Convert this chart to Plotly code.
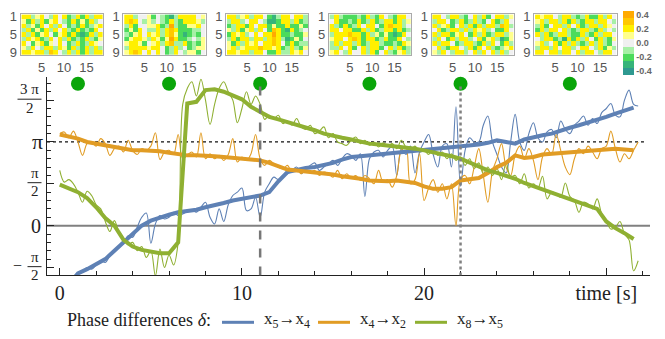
import numpy as np
import plotly.graph_objects as go

# ---------------- data (phase values in units of pi) ----------------
blue_thick = [None, -0.70, -0.57, -0.52, -0.46, -0.40, -0.30, -0.20, -0.10, 0.00, 0.06, 0.10, 0.13, 0.16,
              0.17, 0.19, 0.22, 0.24, 0.27, 0.30, 0.32, 0.34, 0.36, 0.40, 0.53, 0.64, 0.67, 0.69, 0.70, 0.72,
              0.75, 0.79, 0.82, 0.83, 0.84, 0.85, 0.86, 0.88, 0.89, 0.90, 0.91, 0.92, 0.92, 0.93, 0.94, 0.95,
              0.97, 0.99, 1.02, 1.00, 0.98, 1.03, 1.06, 1.08, 1.10, 1.14, 1.17, 1.20, 1.23, 1.27, 1.30, 1.34,
              1.38, 1.41]
orange_thick = [1.09, 1.07, 1.04, 1.00, 0.98, 0.96, 0.93, 0.91, 0.90, 0.90, 0.90, 0.89, 0.87, 0.85, 0.84,
                0.84, 0.84, 0.83, 0.82, 0.81, 0.80, 0.79, 0.78, 0.75, 0.71, 0.67, 0.66, 0.65, 0.64, 0.63,
                0.61, 0.59, 0.58, 0.56, 0.54, 0.53, 0.53, 0.54, 0.53, 0.51, 0.47, 0.44, 0.44, 0.46, 0.54,
                0.56, 0.57, 0.63, 0.70, 0.75, 0.84, 0.81, 0.82, 0.85, 0.86, 0.86, 0.88, 0.88, 0.89, 0.90,
                0.91, 0.92, 0.91, 0.90]
green_thick = [0.49, 0.45, 0.40, 0.33, 0.22, 0.09, 0.00, -0.17, -0.25, -0.29, -0.31, -0.33, -0.33, -0.20,
               1.46, 1.48, 1.62, 1.63, 1.60, 1.56, 1.51, 1.42, 1.36, 1.30, 1.27, 1.24, 1.20, 1.17, 1.14,
               1.10, 1.07, 1.05, 1.03, 1.00, 0.98, 0.97, 0.96, 0.95, 0.94, 0.92, 0.90, 0.88, 0.85, 0.83,
               0.80, 0.75, 0.71, 0.66, 0.63, 0.60, 0.56, 0.51, 0.47, 0.43, 0.40, 0.36, 0.31, 0.28, 0.24,
               0.20, 0.05, -0.03, -0.09, -0.16]

blue_thin = [None, None, None, -0.66, -0.58, -0.55, -0.50, -0.52, -0.47, -0.42, -0.44, -0.36,
             -0.30, -0.24, -0.22, -0.12, -0.14, -0.02, 0.10, 0.15, -0.21, 0.02, 0.12, 0.08,
             0.10, 0.16, 0.12, 0.14, 0.17, 0.19, 0.16, 0.22, 0.28, 0.10, 0.02, 0.20,
             0.05, 0.25, 0.36, 0.40, 0.45, 0.18, 0.20, 0.34, 0.10, 0.40, 0.50, 0.58,
             0.55, 0.60, 0.62, 0.66, 0.70, 0.62, 0.68, 0.72, 0.75, 0.66, 0.70, 0.74,
             0.78, 0.72, 0.80, 0.86, 0.84, 0.78, 0.86, 0.35, 0.80, 0.88, 0.90, 0.82,
             0.90, 0.95, 0.60, 0.92, 0.85, 0.95, 0.63, 0.88, 1.00, 1.09, 0.85, 0.70,
             0.95, 0.98, 0.70, 1.42, 0.47, 0.90, 1.05, 1.00, 1.00, 1.20, 1.31, 1.00,
             0.85, 0.70, 0.63, 1.00, 1.33, 1.00, 0.90, 1.10, 1.23, 1.05, 1.00, 1.12,
             1.15, 1.05, 1.25, 1.15, 1.10, 1.20, 1.25, 1.31, 1.20, 1.28, 1.22, 1.35,
             1.40, 1.46, 1.32, 1.30, 1.50, 1.62, 1.45, 1.43]
orange_thin = [1.10, 1.12, 1.05, 1.13, 1.00, 0.84, 0.98, 1.00, 0.95, 1.04, 0.98, 0.84,
               0.92, 0.95, 0.88, 1.02, 0.90, 0.85, 0.92, 0.90, 0.95, 1.11, 0.79, 0.88,
               0.90, 0.85, 1.09, 0.80, 0.84, 0.88, 0.82, 1.11, 0.80, 0.86, 0.80, 0.84,
               0.78, 0.85, 1.04, 0.76, 0.82, 0.78, 0.86, 1.09, 0.80, 0.72, 0.78, 0.74,
               0.70, 0.68, 0.72, 0.64, 0.68, 0.62, 0.66, 0.64, 0.66, 0.60, 0.64, 0.62,
               0.58, 0.66, 0.56, 0.62, 0.57, 0.60, 0.54, 0.60, 0.56, 0.50, 0.66, 0.52,
               0.55, 0.46, 0.60, 0.90, 0.94, 0.50, 0.55, 0.86, 0.30, 0.45, 0.55, 0.40,
               0.50, 0.32, 0.50, 0.00, 0.55, 0.60, 0.50, 0.70, 0.92, 0.60, 0.28, 0.65,
               0.80, 0.98, 0.70, 0.60, 0.85, 0.95, 0.80, 0.92, 0.78, 0.55, 0.82, 0.92,
               0.85, 1.09, 0.90, 0.70, 0.61, 0.80, 0.92, 0.86, 0.95, 0.88, 0.80, 0.92,
               0.95, 1.13, 0.92, 0.76, 0.86, 0.80, 0.90, 1.00]
green_thin = [0.66, 0.52, 0.55, 0.50, 0.40, 0.28, 0.41, 0.36, 0.25, 0.20, 0.05, -0.07,
              0.06, -0.08, -0.15, -0.23, -0.20, -0.30, -0.25, -0.38, -0.30, -0.60, -0.28, -0.50,
              -0.35, -0.47, -0.20, 1.45, 1.64, 1.72, 1.55, 1.75, 1.50, 1.21, 1.45, 1.64,
              1.72, 1.60, 1.50, 1.23, 1.40, 1.60, 1.45, 1.55, 1.45, 1.27, 1.32, 1.28,
              1.32, 1.22, 1.25, 1.20, 1.28, 1.18, 1.15, 1.20, 1.10, 1.13, 1.18, 1.05,
              1.10, 1.00, 0.98, 0.96, 1.02, 1.06, 0.98, 1.02, 0.96, 1.00, 0.94, 0.99,
              0.95, 0.98, 0.92, 1.02, 0.94, 0.90, 0.95, 0.88, 0.90, 0.85, 0.92, 0.84,
              0.88, 0.80, 0.86, 0.78, 0.82, 0.72, 0.80, 0.68, 0.75, 0.62, 0.70, 0.60,
              0.68, 0.55, 0.75, 0.58, 0.60, 0.50, 0.62, 0.45, 0.50, 0.45, 0.59, 0.32,
              0.40, 0.38, 0.34, 0.51, 0.35, 0.30, 0.16, 0.28, 0.26, 0.20, 0.32, 0.14,
              0.05, -0.04, -0.02, 0.05, -0.10, -0.17, -0.54, -0.42]

event_times = [1, 6, 11, 17, 22, 28]
event_level = 1.695
dashed_time = 11
dotted_time = 22

x_ticks = [0, 10, 20, 30]
x_ticktext = ["0", "10", "20", "time [s]"]

# heat map snapshots: T=-0.4 D=-0.3 G=-0.2 g=-0.1 w=0 y=0.1 Y=0.2 o=0.3 O=0.4
heat_codes = [
    ["YYgyYwgYwYGgYGYgYY", "yGYgYGyYwgGYGyGYgw", "YgyGYwYgYwGgGYGgyY",
     "gYGyGYgYwYgGYGgGYw", "YgYGyYwGyYGYGDGYgY", "gYyYGgYwYgYGgGYgGy",
     "YwGyYGywYwGgYGgYyw", "ygYwgYYgYyGYgGYgYg", "YYyYYgoYwgYgYGYgYY"],
    ["YYgwwyGwgGDgYYYYwy", "YoYwgygwgGYgGYYYyg", "gYGwwyyYGgOgGGyyYw",
     "GyGYwggYgYoYGGGggw", "gGyYwYyYgYoyGDGgGw", "GyYYygYyGyOYGGgwgy",
     "yYYyGwyYgYoggYGgGy", "gYYYYyYYwGgYgwGgyy", "yYoYwYwYwGgYwgyyGw"],
    ["YYgyYgYYwGDgYYwYYg", "gYYgwYYwgDDGYYgYGg", "GgYYGYwYYGyGGYGGyG",
     "ygYGyYgYwGoYGDYGgw", "GYyYgwYwYYOYGGgGGy", "gYGYYgYYgYoYgDGyGw",
     "yGYgYyYwYYoYwGYGgg", "yYgyYYYoYYyYGgYgGy", "YYyYYgYYwGGYggYyYw"],
    ["gYgGGGgGYgGYwgGYYw", "wYGGgGYGgYGgYYGYgy", "YgGYGgYwYYwGYoYYgw",
     "YYwYYGGYgYGgYYGYGg", "gYYYoYYGYgyGyGDGYw", "yYYwYoYGYYGgYGGYwg",
     "gYgYYgYGgYYgGGgGYy", "ggYwYGwYgYYGwYgYGg", "yYwgYwwYgYGwYgGyYg"],
    ["YYwgYYgGwYgYGwYYgy", "gYYwGgYGgYgGwYGgYw", "YgyYGwYgYGYgYYgoYg",
     "wYGgYYgYgYyYgwGGYw", "YgYYGyYwGYgYGgYYgy", "gYwGYgYYgwYGyYgDGy",
     "YgYYwGgYYgGYgYwGYg", "wYgGYYwgYGYwYgGgyY", "ygYwgYYgwYgYwYgYgw"],
    ["YyYYwgYYgGgYGGYgYw", "yYgYYgYGYgGYYgYYwg", "gYGwYYgYwYGgYYgYyw",
     "GYgYYwYgGgYYgGYgwg", "YgYGgYYgGGYgGYgYYw", "wgYYGgDYGYgYwGYgGy",
     "yYgwYGYgYgGgYgYgGw", "gYYgYwYYgwYYwgYGyg", "YYwYYgYYwYgYYwgYYw"],
]
code_value = {"T": -0.4, "D": -0.3, "G": -0.2, "g": -0.1, "w": 0.0,
              "y": 0.1, "Y": 0.2, "o": 0.3, "O": 0.4}
band_colors = ["#2E9990", "#36B47A", "#4CDB5C", "#A6F0A6", "#F0F0F0",
               "#FFFF8C", "#FFF000", "#FFC800", "#FFAA00"]
cbar_vals = [-0.4, -0.2, 0.0, 0.2, 0.4]
cbar_text = ["-0.4", "-0.2", "0.0", "0.2", "0.4"]

# ---------------- figure ----------------
W, H = 665, 339
BLUE, ORANGE, GREEN = "#5E81B5", "#E19C24", "#8FB032"
SERIF = "Liberation Serif"
Y_LO, Y_HI = -0.595, 1.78          # y range in units of pi
PY_ZERO, PX_PER_PI = 227.0, 85.7   # pixel row of 0 and pixels per pi


def px(x):
    return x / W


def py(y):
    return 1 - y / H


fig = go.Figure()

for vals, col in [(blue_thin, BLUE), (orange_thin, ORANGE), (green_thin, GREEN)]:
    fig.add_trace(go.Scatter(x=0.25 * np.arange(len(vals)), y=vals, mode="lines",
                             line=dict(color=col, width=1.1, shape="spline", smoothing=1.0),
                             showlegend=False, hoverinfo="skip"))
for vals, col in [(blue_thick, BLUE), (orange_thick, ORANGE), (green_thick, GREEN)]:
    fig.add_trace(go.Scatter(x=0.5 * np.arange(len(vals)), y=vals, mode="lines",
                             line=dict(color=col, width=4), showlegend=False, hoverinfo="skip"))

fig.add_trace(go.Scatter(x=event_times, y=[event_level] * len(event_times), mode="markers",
                         marker=dict(color="#0AA50A", size=14), cliponaxis=False,
                         showlegend=False, hoverinfo="skip"))

# heat maps
colorscale = []
for i, c in enumerate(band_colors):
    colorscale.append([i / 9, c])
    colorscale.append([(i + 1) / 9, c])

hm_left0, hm_step, hm_w = 20.7, 102.7, 82.3
for k, rows in enumerate(heat_codes):
    z = [[code_value[ch] for ch in r] for r in rows]
    xa = "x%d" % (k + 2)
    ya = "y%d" % (k + 2)
    fig.add_trace(go.Heatmap(
        z=z, x=list(range(1, 19)), y=list(range(1, 10)), xaxis=xa, yaxis=ya,
        colorscale=colorscale, zmin=-0.45, zmax=0.45, showscale=(k == 0), hoverinfo="skip",
        colorbar=dict(x=px(623), xanchor="left", xpad=0, y=py(7), yanchor="top", ypad=0,
                      len=64, lenmode="pixels", thickness=11, outlinewidth=0,
                      tickvals=cbar_vals, ticktext=["<b>%s</b>" % s for s in cbar_text],
                      tickfont=dict(size=9, color="#666", family="Liberation Sans"),
                      ticklabeloverflow="allow", ticks="")))
    left = hm_left0 + k * hm_step
    fig.layout["xaxis%d" % (k + 2)] = dict(
        domain=[px(left), px(left + hm_w)], range=[0.3, 18.7], anchor=ya,
        tickvals=[5, 10, 15], showline=True, mirror=True, linecolor="#aaaaaa", linewidth=1,
        showgrid=False, zeroline=False, ticks="", ticklabeloverflow="allow",
        tickfont=dict(size=13, color="#555", family="Liberation Sans"))
    fig.layout["yaxis%d" % (k + 2)] = dict(
        domain=[py(52.7), py(10)], range=[9.7, 0.3], anchor=xa,
        tickvals=[1, 5, 9], showline=True, mirror=True, linecolor="#aaaaaa", linewidth=1,
        showgrid=False, zeroline=False, ticks="", ticklabeloverflow="allow",
        tickfont=dict(size=13, color="#555", family="Liberation Sans"))

fig.update_layout(
    width=W, height=H, margin=dict(l=0, r=0, t=0, b=0),
    paper_bgcolor="white", plot_bgcolor="white", showlegend=False,
    xaxis=dict(domain=[px(47), px(650)], range=[-0.7, 32.4], showline=True, linecolor="#222",
               linewidth=1, ticks="inside", ticklen=7, tickcolor="#222", tickvals=x_ticks,
               ticktext=x_ticktext, showgrid=False, zeroline=False,
               minor=dict(dtick=2, tick0=0, ticks="inside", ticklen=4, tickcolor="#222"),
               tickfont=dict(size=20, color="#222", family=SERIF), anchor="y"),
    yaxis=dict(domain=[py(PY_ZERO - Y_LO * PX_PER_PI), py(PY_ZERO - Y_HI * PX_PER_PI)],
               range=[Y_LO, Y_HI], showline=True, linecolor="#222",
               linewidth=1, ticks="inside", ticklen=7, tickcolor="#222",
               tickvals=[-0.5, 0, 0.5, 1, 1.5], showticklabels=False, showgrid=False,
               zeroline=False, anchor="x",
               minor=dict(dtick=0.1, tick0=-0.5, ticks="inside", ticklen=4, tickcolor="#222")),
)

# reference lines
fig.add_shape(type="line", xref="x domain", yref="y", x0=0, x1=1, y0=0, y1=0,
              line=dict(color="#808080", width=2), layer="below")
fig.add_shape(type="line", xref="x domain", yref="y", x0=0, x1=0.99, y0=1, y1=1,
              line=dict(color="#111", width=1.3, dash="dot"), layer="below")
fig.add_shape(type="line", xref="x", yref="y", x0=dashed_time, x1=dashed_time, y0=Y_LO,
              y1=event_level, line=dict(color="#777777", width=2.5, dash="dash"))
fig.add_shape(type="line", xref="x", yref="y", x0=dotted_time, x1=dotted_time, y0=Y_LO,
              y1=event_level, line=dict(color="#808080", width=2.5, dash="dot"))

# y tick labels (fractions of pi)
TF = dict(family=SERIF, color="#222")


def ann(text, x, y, size, xanchor="center"):
    fig.add_annotation(text=text, x=px(x), y=py(y), xref="paper", yref="paper",
                       showarrow=False, xanchor=xanchor, yanchor="middle",
                       font=dict(size=size, **TF))


def frac(num, xc, yl, w):
    ann(num, xc, yl - 10, 15)
    ann("2", xc, yl + 9, 15)
    fig.add_shape(type="line", xref="paper", yref="paper", x0=px(xc - w / 2), x1=px(xc + w / 2),
                  y0=py(yl), y1=py(yl), line=dict(color="#222", width=1))


frac("3 π", 29.5, 97.5, 24)
ann("π", 37, 141, 22)
frac("π", 34.5, 183, 14)
ann("0", 36, 227, 20)
frac("π", 34.5, 269, 14)
ann("−", 17, 268, 16)

# legend
ann("Phase differences <i>δ</i>:", 65, 324, 18, xanchor="left")
for x0, col, lab in [(222, BLUE, "x<sub>5</sub>→x<sub>4</sub>"),
                     (318, ORANGE, "x<sub>4</sub>→x<sub>2</sub>"),
                     (415, GREEN, "x<sub>8</sub>→x<sub>5</sub>")]:
    fig.add_shape(type="line", xref="paper", yref="paper", x0=px(x0), x1=px(x0 + 32),
                  y0=py(326), y1=py(326), line=dict(color=col, width=3))
    ann(lab, x0 + 40, 324, 17, xanchor="left")

fig.write_html("out.html", config={"displayModeBar": False},
               post_script="document.body.style.margin='0';document.body.style.padding='0';")
